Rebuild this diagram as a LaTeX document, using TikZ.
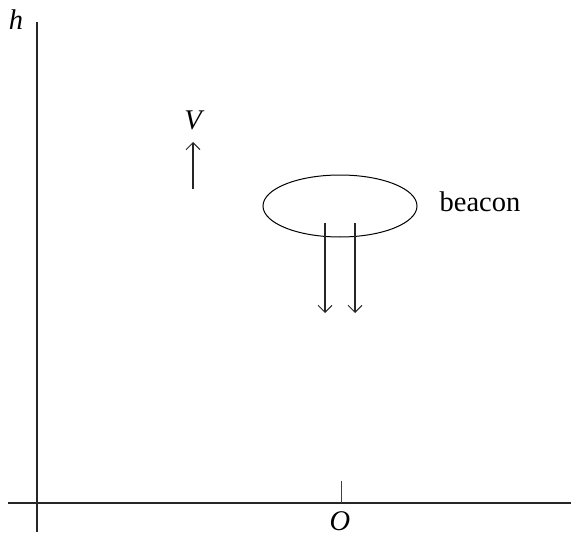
\documentclass[tikz,border=0pt]{standalone}
\usepackage{fontspec}
\setmainfont{Liberation Serif}
\newfontfamily\tms{Liberation Serif}
\usetikzlibrary{arrows.meta,shapes.geometric}
\begin{document}
\begin{tikzpicture}[x=1pt,y=-1pt,
  axis/.style={line width=2.6pt, draw=black!85},
  thin/.style={line width=1.5pt, draw=black!85},
  barb/.style={-{Straight Barb[length=7pt,width=14pt,line width=1pt]}},
  lbl/.style={inner sep=0pt, font=\tms\fontsize{28.5}{30}\selectfont}]
\useasboundingbox (0,0) rectangle (571,535);
% axes
\coordinate (vtop) at (37,22);
\coordinate (vbot) at (37,532);
\coordinate (hl) at (8,503);
\coordinate (hr) at (571,503);
\draw[axis] (vtop) -- (vbot);
\draw[axis] (hl) -- (hr);
% tick at O
\coordinate (tk1) at (341,481);
\coordinate (tk2) at (341,503);
\draw[line width=1pt, draw=black!75] (tk1) -- (tk2);
\node[lbl] (O) at (340,521) {\itshape O};
\node[lbl] (h) at (16,20) {\itshape h};
% V arrow
\node[lbl] (V) at (193,120) {\itshape V};
\coordinate (va) at (193,189);
\coordinate (vb) at (193,142);
\draw[thin, barb] (va) -- (vb);
% beacon
\node[draw, ellipse, minimum width=154pt, minimum height=62pt, line width=1pt, inner sep=0pt] (E) at (340,206) {};
\node[lbl] (B) at (480,202) {beacon};
\coordinate (a1) at (325,223);
\coordinate (a2) at (325,313);
\coordinate (b1) at (355,223);
\coordinate (b2) at (355,313);
\draw[thin, barb] (a1) -- (a2);
\draw[thin, barb] (b1) -- (b2);
\end{tikzpicture}
\end{document}
